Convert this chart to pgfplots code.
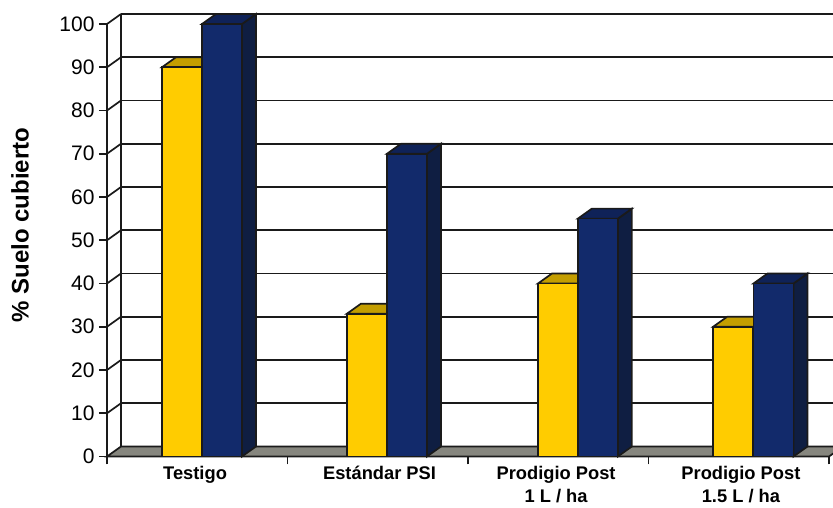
\documentclass[border=0pt]{standalone}
\usepackage{fontspec}
\setmainfont{Liberation Sans}
\usepackage{pgfplots}
\pgfplotsset{compat=1.18}
\definecolor{axc}{HTML}{1A1A1A}
\definecolor{yfront}{HTML}{FFCC00}
\definecolor{ytop}{HTML}{C49E00}
\definecolor{bfront}{HTML}{122A6B}
\definecolor{btop}{HTML}{0F2258}
\definecolor{bside}{HTML}{0F1E42}
\definecolor{floorc}{HTML}{86867E}
\begin{document}
\begin{tikzpicture}[x=1pt,y=1pt]
\begin{axis}[
  name=a,
  at={(0pt,0pt)},
  anchor=origin,
  scale only axis,
  width=722pt,
  height=432.5pt,
  xmin=0, xmax=4,
  ymin=0, ymax=100,
  axis lines=left,
  axis line style={-,color=axc,line width=1.8pt},
  clip=false,
  xtick={0,1,2,3,4},
  xticklabels={},
  ytick={0,10,...,100},
  tick style={color=axc,line width=1.7pt},
  tick align=outside,
  major tick length=8pt,
  /pgf/number format/assume math mode=true,
  yticklabel style={font=\fontsize{21}{25}\selectfont,color=black,xshift=-1pt},
  extra x ticks={0.488,1.51,2.488,3.512},
  extra x tick labels={\strut Testigo,\strut Estándar PSI,{\strut Prodigio Post\\1 L / ha},{\strut Prodigio Post\\1.5 L / ha}},
  extra x tick style={major tick length=0pt,
    xticklabel style={font=\fontsize{18.3}{23}\bfseries\selectfont,align=center,anchor=north,yshift=-7pt,inner sep=0pt,outer sep=0pt}},
  ylabel={\% Suelo cubierto},
  every axis y label/.style={at={(axis description cs:-0.1205,0.535)},rotate=90,anchor=center,font=\fontsize{24}{28}\bfseries\selectfont},
]
% floor
\addplot[fill=floorc,draw=axc,line width=1.7pt] coordinates {(0,0)(4,0)(4.0776,2.31)(0.0776,2.31)} --cycle;
% back wall left edge
\addplot[draw=axc,line width=1.8pt] coordinates {(0.0776,2.31)(0.0776,102.31)};
% grid lines on the back wall
\addplot[draw=axc,line width=1.7pt] coordinates {(0.0776,12.31)(4.0222,12.31)};
\addplot[draw=axc,line width=1.7pt] coordinates {(0.0776,22.31)(4.0222,22.31)};
\addplot[draw=axc,line width=1.7pt] coordinates {(0.0776,32.31)(4.0222,32.31)};
\addplot[draw=axc,line width=1.7pt] coordinates {(0.0776,42.31)(4.0222,42.31)};
\addplot[draw=axc,line width=1.7pt] coordinates {(0.0776,52.31)(4.0222,52.31)};
\addplot[draw=axc,line width=1.7pt] coordinates {(0.0776,62.31)(4.0222,62.31)};
\addplot[draw=axc,line width=1.7pt] coordinates {(0.0776,72.31)(4.0222,72.31)};
\addplot[draw=axc,line width=1.7pt] coordinates {(0.0776,82.31)(4.0222,82.31)};
\addplot[draw=axc,line width=1.7pt] coordinates {(0.0776,92.31)(4.0222,92.31)};
\addplot[draw=axc,line width=1.7pt] coordinates {(0.0776,102.31)(4.0222,102.31)};
% diagonal steps on the side wall
\addplot[draw=axc,line width=1.7pt] coordinates {(0,10)(0.0776,12.31)};
\addplot[draw=axc,line width=1.7pt] coordinates {(0,20)(0.0776,22.31)};
\addplot[draw=axc,line width=1.7pt] coordinates {(0,30)(0.0776,32.31)};
\addplot[draw=axc,line width=1.7pt] coordinates {(0,40)(0.0776,42.31)};
\addplot[draw=axc,line width=1.7pt] coordinates {(0,50)(0.0776,52.31)};
\addplot[draw=axc,line width=1.7pt] coordinates {(0,60)(0.0776,62.31)};
\addplot[draw=axc,line width=1.7pt] coordinates {(0,70)(0.0776,72.31)};
\addplot[draw=axc,line width=1.7pt] coordinates {(0,80)(0.0776,82.31)};
\addplot[draw=axc,line width=1.7pt] coordinates {(0,90)(0.0776,92.31)};
\addplot[draw=axc,line width=1.7pt] coordinates {(0,100)(0.0776,102.31)};
% yellow tops
\addplot[fill=ytop,draw=axc,line width=1.7pt] coordinates {(.3047,90)(.5263,90)(.6039,92.31)(.3823,92.31)} --cycle;
\addplot[fill=ytop,draw=axc,line width=1.7pt] coordinates {(1.3287,33)(1.5503,33)(1.6279,35.31)(1.4063,35.31)} --cycle;
\addplot[fill=ytop,draw=axc,line width=1.7pt] coordinates {(2.3877,40)(2.6093,40)(2.6869,42.31)(2.4653,42.31)} --cycle;
\addplot[fill=ytop,draw=axc,line width=1.7pt] coordinates {(3.3582,30)(3.5798,30)(3.6574,32.31)(3.4358,32.31)} --cycle;
% yellow fronts
\addplot[ybar,bar width=40pt,bar shift=0pt,fill=yfront,draw=axc,line width=1.7pt] coordinates {(.4155,90)(1.4395,33)(2.4985,40)(3.469,30)};
% blue sides
\addplot[fill=bside,draw=axc,line width=1.7pt] coordinates {(.7478,0)(.7478,100)(.8254,102.31)(.8254,2.31)} --cycle;
\addplot[fill=bside,draw=axc,line width=1.7pt] coordinates {(1.7728,0)(1.7728,70)(1.8504,72.31)(1.8504,2.31)} --cycle;
\addplot[fill=bside,draw=axc,line width=1.7pt] coordinates {(2.8303,0)(2.8303,55)(2.9079,57.31)(2.9079,2.31)} --cycle;
\addplot[fill=bside,draw=axc,line width=1.7pt] coordinates {(3.8033,0)(3.8033,40)(3.8809,42.31)(3.8809,2.31)} --cycle;
% blue tops
\addplot[fill=btop,draw=axc,line width=1.7pt] coordinates {(.5262,100)(.7478,100)(.8254,102.31)(.6038,102.31)} --cycle;
\addplot[fill=btop,draw=axc,line width=1.7pt] coordinates {(1.5512,70)(1.7728,70)(1.8504,72.31)(1.6288,72.31)} --cycle;
\addplot[fill=btop,draw=axc,line width=1.7pt] coordinates {(2.6087,55)(2.8303,55)(2.9079,57.31)(2.6863,57.31)} --cycle;
\addplot[fill=btop,draw=axc,line width=1.7pt] coordinates {(3.5817,40)(3.8033,40)(3.8809,42.31)(3.6593,42.31)} --cycle;
% blue fronts
\addplot[ybar,bar width=40pt,bar shift=0pt,fill=bfront,draw=axc,line width=1.7pt] coordinates {(.637,100)(1.662,70)(2.7195,55)(3.6925,40)};
\end{axis}
\pgfresetboundingbox
\path[use as bounding box] (-107pt,-51.5pt) rectangle (726pt,456.5pt);
\end{tikzpicture}
\end{document}
